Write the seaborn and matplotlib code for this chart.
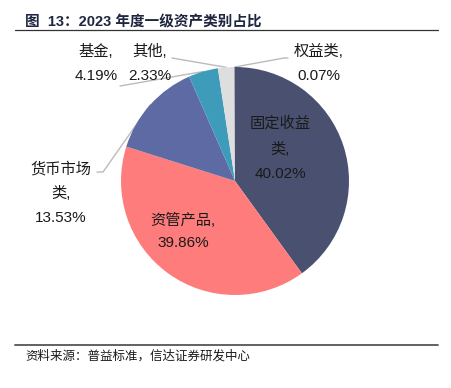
import numpy as np
import matplotlib
matplotlib.use("Agg")
import matplotlib.pyplot as plt
import seaborn as sns
from matplotlib.lines import Line2D

sns.set_theme(style="white")
plt.rcParams['font.family'] = ['Liberation Sans', 'Noto Sans CJK SC', 'DejaVu Sans']

categories = ["固定收益类", "资管产品", "货币市场类", "基金", "其他", "权益类"]
values = [40.02, 39.86, 13.53, 4.19, 2.33, 0.07]
colors = ["#4A5170", "#FF7C7C", "#5D6AA3", "#3E9BBA", "#DEDEDE", "#4A5170"]
label_lines = [
    ["固定收益", "类,", "40.02%"],
    ["资管产品,", "39.86%"],
    ["货币市场", "类,", "13.53%"],
    ["基金,", "4.19%"],
    ["其他,", "2.33%"],
    ["权益类,", "0.07%"],
]

W, H = 452, 388
fig = plt.figure(figsize=(W / 100, H / 100), dpi=100)

# pie geometry in pixels (top-left origin)
CX, CY, R = 235, 181, 114

def fpx(x, y):
    return x / W, 1 - y / H

def dpx(x, y):
    return (x - CX) / R, (CY - y) / R

ax = fig.add_axes([(CX - R) / W, (H - CY - R) / H, 2 * R / W, 2 * R / H])
ax.pie(values, colors=colors, startangle=90, counterclock=False,
       wedgeprops=dict(linewidth=0))
ax.set_xlim(-1, 1)
ax.set_ylim(-1, 1)
ax.axis("off")

# label placement (pixel centres of each text line)
label_pos = [
    (280, [123, 150, 174]),
    (183, [220, 243]),
    (61, [169, 193, 218]),
    (96, [52, 76]),
    (150, [52, 76]),
    (319, [52, 76]),
]
for lines, (x, ys) in zip(label_lines, label_pos):
    for t, y in zip(lines, ys):
        fx, fy = fpx(x, y)
        fig.text(fx, fy, t, ha="center", va="center", fontsize=11, color="#1a1a1a")

# leader lines: from label side to wedge edge at mid angle
cum = np.cumsum([0] + values)
mids = [(cum[i] + cum[i + 1]) / 2 for i in range(len(values))]

def edge(i):
    th = np.deg2rad(90 - mids[i] / 100 * 360)
    return np.cos(th), np.sin(th)

leader_start = {
    2: [(97, 172), (103, 172)],
    3: [(120, 86)],
    4: [(172, 58)],
    5: [(288, 58), (284, 58)],
}
for i, pts in leader_start.items():
    xs = [dpx(*p)[0] for p in pts] + [edge(i)[0]]
    ys = [dpx(*p)[1] for p in pts] + [edge(i)[1]]
    ax.plot(xs, ys, color="#BBBBBB", lw=1, clip_on=False, zorder=0)

# title and rules
fx, fy = fpx(25, 22)
fig.text(fx, fy, "图  13：2023 年度一级资产类别占比", ha="left", va="center",
         fontsize=10.5, fontweight="bold", color="#1F2740")
fig.add_artist(Line2D([15 / W, 438 / W], [1 - 30 / H, 1 - 30 / H],
                      color="#333333", lw=0.9, transform=fig.transFigure))
fig.add_artist(Line2D([15 / W, 438 / W], [1 - 345 / H, 1 - 345 / H],
                      color="#555555", lw=1.3, transform=fig.transFigure))
fx, fy = fpx(25, 356)
fig.text(fx, fy, "资料来源：普益标准，信达证券研发中心", ha="left", va="center",
         fontsize=9, color="#1a1a1a", style="italic")

fig.savefig("out.png", dpi=100)
